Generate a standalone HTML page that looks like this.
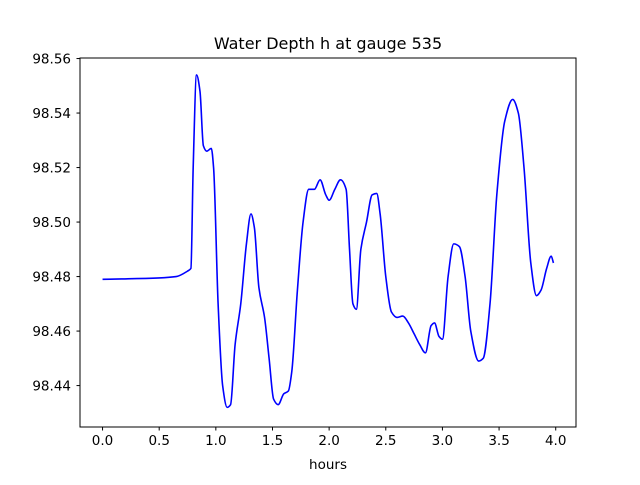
<!DOCTYPE html>
<html><head><meta charset="utf-8"><style>
body{margin:0;background:#fff;}
svg text{font-family:"DejaVu Sans","Liberation Sans",sans-serif;}
</style></head><body>
<svg id="chart" width="640" height="480">
<rect width="640" height="480" fill="#fff"/>
<text x="328" y="49" font-size="16" text-anchor="middle">Water Depth h at gauge 535</text>
<g id="ticks"></g>
<path id="line" fill="none" stroke="#0000ff" stroke-width="1.6" stroke-linejoin="round"/>
<rect x="80" y="58" width="496" height="369" fill="none" stroke="#000" stroke-width="1"/>
<text x="328" y="469" font-size="13.5" text-anchor="middle">hours</text>
</svg>
<script>
const hours=[0,0.5,0.65,0.75,0.78,0.8,0.83,0.86,0.89,0.92,0.96,0.98,1.02,1.06,1.1,1.13,1.17,1.22,1.27,1.31,1.34,1.38,1.43,1.47,1.51,1.55,1.6,1.64,1.67,1.72,1.77,1.82,1.87,1.92,1.97,2.0,2.05,2.1,2.15,2.18,2.21,2.24,2.28,2.33,2.38,2.42,2.45,2.5,2.55,2.6,2.65,2.7,2.75,2.8,2.85,2.9,2.93,2.97,3.0,3.05,3.1,3.15,3.2,3.25,3.32,3.36,3.42,3.48,3.55,3.62,3.67,3.72,3.78,3.83,3.87,3.92,3.96,3.98];
const depth=[98.479,98.4795,98.480,98.482,98.483,98.52,98.554,98.548,98.528,98.526,98.527,98.52,98.47,98.44,98.432,98.433,98.455,98.47,98.492,98.503,98.498,98.476,98.465,98.45,98.435,98.433,98.437,98.438,98.445,98.475,98.5,98.512,98.512,98.5155,98.51,98.508,98.512,98.5155,98.512,98.49,98.47,98.468,98.49,98.5,98.51,98.5105,98.503,98.48,98.467,98.465,98.4655,98.463,98.459,98.455,98.452,98.462,98.463,98.458,98.457,98.48,98.492,98.491,98.48,98.46,98.449,98.45,98.47,98.51,98.537,98.545,98.54,98.52,98.485,98.473,98.475,98.483,98.4875,98.485];
const xTicks=[0,0.5,1,1.5,2,2.5,3,3.5,4];
const xTickLabels=["0.0","0.5","1.0","1.5","2.0","2.5","3.0","3.5","4.0"];
const yTicks=[98.44,98.46,98.48,98.50,98.52,98.54,98.56];
const yTickLabels=["98.44","98.46","98.48","98.50","98.52","98.54","98.56"];
const X0=80,X1=576,Y0=427,Y1=58,xmin=-0.199,xmax=4.179,ymin=98.4248,ymax=98.5602;
const sx=v=>X0+(v-xmin)/(xmax-xmin)*(X1-X0);
const sy=v=>Y0-(v-ymin)/(ymax-ymin)*(Y0-Y1);
const NS="http://www.w3.org/2000/svg";
const g=document.getElementById('ticks');
function mk(t,a){const e=document.createElementNS(NS,t);for(const k in a)e.setAttribute(k,a[k]);g.appendChild(e);return e;}
xTicks.forEach((v,i)=>{const x=sx(v);
const l=mk('line',{x1:x,x2:x,y1:Y0,y2:Y0+3.5,stroke:'#000'});


const t=mk('text',{x:x,y:Y0+18,'font-size':13.5,'text-anchor':'middle'});t.textContent=xTickLabels[i];

});
yTicks.forEach((v,i)=>{const y=sy(v);
const l=mk('line',{x1:X0-3.5,x2:X0,y1:y,y2:y,stroke:'#000'});


const t=mk('text',{x:X0-9,y:y+5,'font-size':13.5,'text-anchor':'end'});t.textContent=yTickLabels[i];

});
// monotone cubic (Fritsch-Carlson) in pixel space
const P=hours.map((h,i)=>[sx(h),sy(depth[i])]);
const n=P.length,dl=[],m=[];
for(let i=0;i<n-1;i++)dl.push((P[i+1][1]-P[i][1])/(P[i+1][0]-P[i][0]));
m[0]=dl[0];m[n-1]=dl[n-2];
for(let i=1;i<n-1;i++){if(dl[i-1]*dl[i]<=0)m[i]=0;else{const h0=P[i][0]-P[i-1][0],h1=P[i+1][0]-P[i][0];const w1=2*h1+h0,w2=h1+2*h0;m[i]=(w1+w2)/(w1/dl[i-1]+w2/dl[i]);}}
let d='M'+P[0][0]+','+P[0][1];
for(let i=0;i<n-1;i++){const h=(P[i+1][0]-P[i][0])/3;
d+=' C'+(P[i][0]+h)+','+(P[i][1]+m[i]*h)+' '+(P[i+1][0]-h)+','+(P[i+1][1]-m[i+1]*h)+' '+P[i+1][0]+','+P[i+1][1];}
document.getElementById('line').setAttribute('d',d);
</script>
</body></html>
